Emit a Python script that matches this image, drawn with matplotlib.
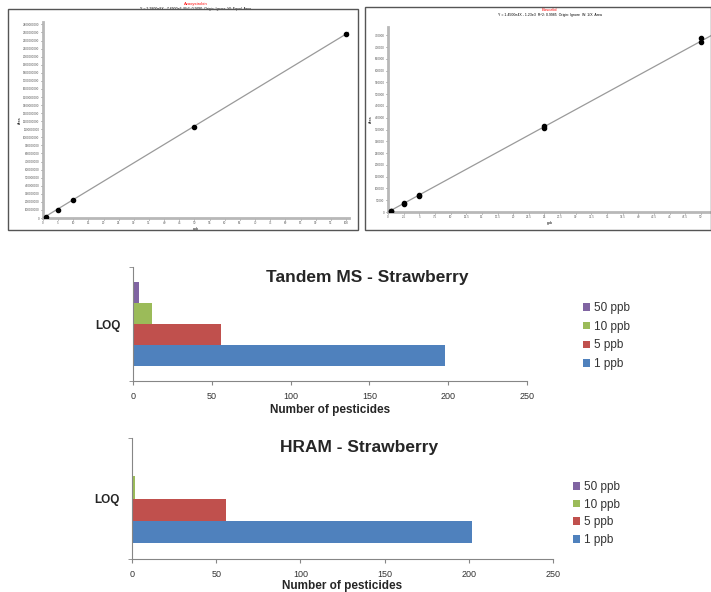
import numpy as np
import matplotlib.pyplot as plt
from matplotlib.patches import Rectangle

plt.rcParams['font.family'] = ['Liberation Sans', 'DejaVu Sans']

# calibration curve, left screenshot
cal1_x = [1, 5, 10, 50, 100]
cal1_y = [0.12, 1.04, 2.24, 11.3, 22.8]
cal1_slope = 0.228

# calibration curve, right screenshot (replicates)
cal2_x = [0.5, 0.5, 2.5, 2.5, 5, 5, 25, 25, 50, 50]
cal2_y = [0.05, 0.08, 0.65, 0.75, 1.35, 1.48, 7.1, 7.3, 14.4, 14.8]
cal2_slope = 0.29

# LOQ bar charts
levels = ['1 ppb', '5 ppb', '10 ppb', '50 ppb']
tandem_ms = [198, 56, 12, 4]
hram = [202, 56, 2, 0]
colors = ['#4F81BD', '#C0504D', '#9BBB59', '#8064A2']

W, H = 711, 592
fig = plt.figure(figsize=(W / 100, H / 100), dpi=100)


def fx(px):
    return px / W


def fy(py):
    return 1 - py / H


# frames round the two screenshots
for x0, y0, x1, y1 in [(8, 9, 358, 230), (365, 7, 711, 230)]:
    fig.patches.append(Rectangle((fx(x0), fy(y1)), fx(x1 - x0), (y1 - y0) / H,
                                 transform=fig.transFigure, fill=False,
                                 edgecolor='#555555', lw=1.0))


def cal_plot(rect, xs, ys, slope, xmax, ymax, xstep, ystep, yunit, title, eq, xlab):
    ax = fig.add_axes(rect)
    ax.plot([0, xmax * 1.05], [0, slope * xmax * 1.05], color='#9a9a9a', lw=0.9)
    ax.scatter(xs, ys, s=9, color='black', zorder=3)
    ax.set_xlim(0, xmax)
    ax.set_ylim(0, ymax)
    for s in ['top', 'right']:
        ax.spines[s].set_visible(False)
    for s in ['left', 'bottom']:
        ax.spines[s].set_color('#b8b8b8')
        ax.spines[s].set_linewidth(2.0)
    xt = np.arange(0, xmax + 0.01, xstep)
    yt = np.arange(0, ymax + 0.01, ystep)
    ax.set_xticks(xt)
    ax.set_xticklabels(['%g' % v for v in xt])
    ax.set_yticks(yt)
    ax.set_yticklabels(['%d' % round(v * yunit) for v in yt])
    ax.tick_params(labelsize=2.2, length=1.5, width=0.5, pad=1, colors='#555555')
    ax.set_xlabel(xlab, fontsize=2.5, labelpad=1)
    ax.set_ylabel('Area', fontsize=2.5, labelpad=1)
    ax.text(0.5, 1.085, title, transform=ax.transAxes, ha='center', fontsize=3, color='red')
    ax.text(0.5, 1.06, eq, transform=ax.transAxes, ha='center', fontsize=2.5)
    return ax


cal_plot([fx(43), fy(218), fx(349 - 43), (218 - 22) / H], cal1_x, cal1_y, cal1_slope,
         101, 24.3, 5, 1, 1e8, 'Azoxystrobin',
         'Y = 2.2800e8X - 7.6900e6  R^2: 0.9990  Origin: Ignore  W: Equal  Area',
         'ppb')
cal_plot([fx(388), fy(212), fx(711 - 388), (212 - 27) / H], cal2_x, cal2_y, cal2_slope,
         51.6, 15.7, 2.5, 1, 5e4, 'Boscalid',
         'Y = 1.4500e4X - 1.23e3  R^2: 0.9985  Origin: Ignore  W: 1/X  Area',
         'ppb')


def loq_plot(rect, vals, title, tx, ty, leg_x, leg_y, leg_sp, lpad):
    ax = fig.add_axes(rect)
    h = 0.184
    offs = [-1.5 * h, -0.5 * h, 0.5 * h, 1.5 * h]
    bars = []
    for v, o, c, lab in zip(vals, offs, colors, levels):
        bars.append(ax.barh([0 + o], [v], height=h, color=c, label=lab))
    ax.set_ylim(-0.5, 0.5)
    ax.set_xlim(0, 250)
    ax.set_xticks([0, 50, 100, 150, 200, 250])
    ax.set_yticks([0])
    ax.set_yticklabels(['LOQ'], fontweight='bold', fontsize=8.5, color='#262626')
    ax.set_yticks([-0.5, 0.5], minor=True)
    ax.tick_params(axis='y', which='major', length=0, pad=9)
    ax.tick_params(axis='y', which='minor', length=3, color='#868686')
    ax.tick_params(axis='x', length=3, color='#868686', labelsize=6.5,
                   labelcolor='#333333', pad=5)
    for s in ['top', 'right']:
        ax.spines[s].set_visible(False)
    for s in ['left', 'bottom']:
        ax.spines[s].set_color('#868686')
    ax.set_xlabel('Number of pesticides', fontweight='bold', fontsize=8.5,
                  color='#262626', labelpad=lpad)
    ax.text(tx, ty, title, transform=ax.transAxes, ha='center', va='center',
            fontweight='bold', fontsize=12.5, color='#262626')
    handles = bars[::-1]
    leg = fig.legend(handles, levels[::-1], loc='upper left',
                     bbox_to_anchor=(fx(leg_x), fy(leg_y)), frameon=False,
                     fontsize=8.5, handlelength=0.6, handleheight=0.6,
                     handletextpad=0.35, labelspacing=leg_sp, borderpad=0,
                     borderaxespad=0)
    for t in leg.get_texts():
        t.set_color('#333333')
    return ax


loq_plot([fx(133), fy(381), fx(527 - 133), (381 - 267) / H], tandem_ms,
         'Tandem MS - Strawberry', 0.594, 0.905, 583, 302, 0.57, 2)
loq_plot([fx(132), fy(559), fx(553 - 132), (559 - 438) / H], hram,
         'HRAM - Strawberry', 0.54, 0.92, 573, 481, 0.48, 0.5)

fig.savefig('out.png', dpi=100)
